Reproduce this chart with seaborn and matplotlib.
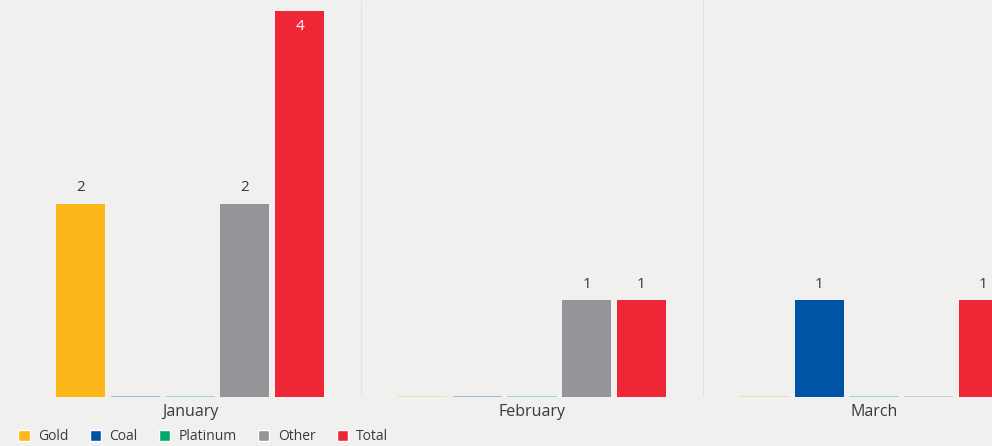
import pandas as pd
import seaborn as sns
import matplotlib.pyplot as plt
from matplotlib.patches import Patch

months = ["January", "February", "March"]
series = ["Gold", "Coal", "Platinum", "Other", "Total"]
gold = [2, 0, 0]
coal = [0, 0, 1]
platinum = [0, 0, 0]
other = [2, 1, 0]
total = [4, 1, 1]

colors = ["#FDB71A", "#0054A6", "#00A86B", "#939598", "#EE2636"]

df = pd.DataFrame({"month": months, "Gold": gold, "Coal": coal,
                   "Platinum": platinum, "Other": other, "Total": total})
df = df.melt(id_vars="month", var_name="series", value_name="value")

sns.set_style("white")
plt.rcParams['font.family'] = ['Open Sans', 'DejaVu Sans']
bg = "#f0f0ef"
text_col = "#3a3a3a"

fig = plt.figure(figsize=(9.92, 4.46), dpi=100, facecolor=bg)
ax = fig.add_axes([0, 0.11, 1, 0.89])
ax.set_facecolor(bg)

sns.barplot(data=df, x="month", y="value", hue="series", hue_order=series,
            order=months, palette=colors, width=0.8, gap=0.1, ax=ax,
            legend=False, saturation=1, errorbar=None)

# zero bars shown as a faint line at the baseline
for cont, col in zip(ax.containers, colors):
    for bar in cont:
        h = bar.get_height()
        if h == 0:
            bar.set_edgecolor(col)
            bar.set_alpha(0.45)
            bar.set_linewidth(1.1)
        else:
            bar.set_linewidth(0)
            cx = bar.get_x() + bar.get_width() / 2
            if h >= 3.5:
                ax.text(cx, h - 0.09, f"{int(h)}", ha="center", va="top",
                        color="white", fontsize=11)
            else:
                ax.text(cx, h + 0.09, f"{int(h)}", ha="center", va="bottom",
                        color=text_col, fontsize=11)

ax.set_xlim(-0.556, 2.345)
ax.set_ylim(0, 4.11)
ax.set_xticks(range(len(months)))
ax.set_xticklabels(months, fontsize=11.5, color=text_col)
ax.set_xticks([0.5, 1.5], minor=True)
ax.grid(axis="x", which="minor", color="#e2e2e2", lw=0.7)
ax.set_axisbelow(True)
ax.tick_params(axis="x", length=0, pad=5, which="both")
ax.set_yticks([])
ax.set_xlabel("")
ax.set_ylabel("")
sns.despine(ax=ax, left=True, bottom=True)

handles = [Patch(facecolor=c, label=s) for c, s in zip(colors, series)]
leg = fig.legend(handles=handles, loc="lower left", bbox_to_anchor=(0.006, -0.024),
                 ncol=5, frameon=False, handlelength=0.8, handleheight=0.8,
                 handletextpad=0.6, columnspacing=1.55, fontsize=10)
for t in leg.get_texts():
    t.set_color(text_col)

fig.savefig("out.png", dpi=100, facecolor=bg)
